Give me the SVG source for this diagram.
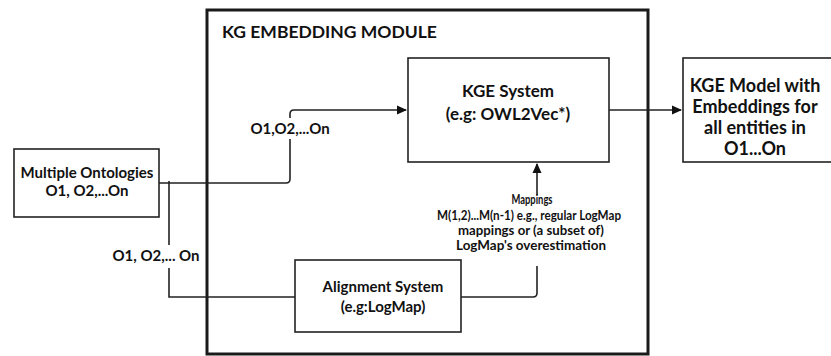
<svg xmlns="http://www.w3.org/2000/svg" width="831" height="356" viewBox="0 0 831 356">
<style>
.box{fill:#fff;stroke:#222;stroke-width:1.6}
.outer{fill:none;stroke:#1a1a1a;stroke-width:3}
.t{font-family:Lato,"Open Sans",sans-serif;font-weight:700;fill:#111;text-anchor:middle}
.e{fill:none;stroke:#222;stroke-width:1.6}
.lbl{fill:#fff}
</style>
<defs>
<marker id="arr" markerWidth="10" markerHeight="10" refX="9" refY="5" orient="auto" markerUnits="userSpaceOnUse">
<path d="M0,0.5 L10,5 L0,9.5 Z" fill="#111"/>
</marker>
</defs>
<rect width="831" height="356" fill="#fff"/>
<g id="module">
<rect class="outer" x="207" y="10" width="441" height="344"/>
<text class="t" x="222" y="38" font-size="17.5" style="text-anchor:start">KG EMBEDDING MODULE</text>
</g>
<g id="connectors">
<path class="e" d="M159,183 H286 Q290,183 290,179 V114 Q290,110 294,110 H406" marker-end="url(#arr)"/>
<path class="e" d="M169,181 V297 H295"/>
<path class="e" d="M461,297 H533 Q537,297 537,293 V164" marker-end="url(#arr)"/>
<path class="e" d="M609,110 H681" marker-end="url(#arr)"/>
<rect class="lbl" x="250" y="118" width="80" height="21"/>
<text class="t" x="290" y="134" font-size="15">O1,O2,...On</text>
<rect class="lbl" x="113" y="245" width="86" height="23"/>
<text class="t" x="156" y="261" font-size="15">O1, O2,... On</text>
<rect class="lbl" x="434" y="195" width="192" height="71"/>
<text class="t" x="532" y="204" font-size="12.5" textLength="41" lengthAdjust="spacingAndGlyphs">Mappings</text>
<text class="t" x="529" y="220" font-size="13.5" textLength="184" lengthAdjust="spacingAndGlyphs">M(1,2)...M(n-1) e.g., regular LogMap</text>
<text class="t" x="531" y="235" font-size="13.5" textLength="146" lengthAdjust="spacingAndGlyphs">mappings or (a subset of)</text>
<text class="t" x="531" y="250" font-size="13.5" textLength="150" lengthAdjust="spacingAndGlyphs">LogMap's overestimation</text>
</g>
<g id="kge-system">
<rect class="box" x="408" y="58" width="201" height="104"/>
<text class="t" x="508" y="97" font-size="17">KGE System</text>
<text class="t" x="508" y="120" font-size="17">(e.g: OWL2Vec*)</text>
</g>
<g id="kge-model">
<rect class="box" x="683" y="58" width="150" height="104"/>
<text class="t" x="755" y="92" font-size="18">KGE Model with</text>
<text class="t" x="755" y="113" font-size="18">Embeddings for</text>
<text class="t" x="755" y="134" font-size="18">all entities in</text>
<text class="t" x="755" y="155" font-size="18">O1...On</text>
</g>
<g id="ontologies">
<rect class="box" x="14" y="149" width="145" height="68"/>
<text class="t" x="87" y="178" font-size="15">Multiple Ontologies</text>
<text class="t" x="87" y="196" font-size="15">O1, O2,...On</text>
</g>
<g id="alignment">
<rect class="box" x="295" y="260" width="166" height="72"/>
<text class="t" x="383" y="292" font-size="15">Alignment System</text>
<text class="t" x="383" y="312" font-size="15">(e.g:LogMap)</text>
</g>
</svg>
